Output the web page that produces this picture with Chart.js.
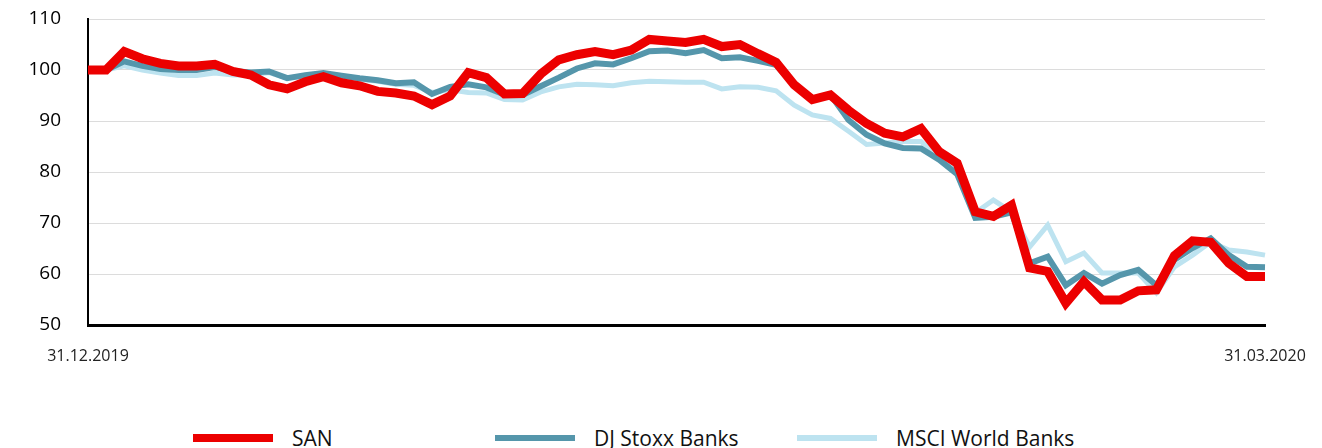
<!DOCTYPE html>
<html>
<head>
<meta charset="utf-8">
<script src="https://cdn.jsdelivr.net/npm/chart.js@4.4.1/dist/chart.umd.min.js"></script>
<style>
    body { margin: 0; background: #fff; width: 1322px; height: 448px; overflow: hidden; position: relative; font-family: "Open Sans", sans-serif; }
    #wrap { position: absolute; left: 0; top: 0; width: 1322px; height: 400px; }
    .item { position: absolute; top: 427px; height: 22px; display: flex; align-items: center; font-size: 21px; color: #111; white-space: nowrap; }
    .swatch { width: 80px; margin-right: 19px; }
</style>
</head>
<body>
<div id="wrap"><canvas id="chartId" width="1322" height="400"></canvas></div>
<div id="legend"></div>
<script>
// series values (index, 31.12.2019 = 100)
var SAN = [100, 100, 103.6, 102.2, 101.3, 100.8, 100.8, 101.1, 99.7, 99,
    97.1, 96.3, 97.7, 98.7, 97.5, 96.9, 95.8, 95.5, 94.9, 93.2,
    94.9, 99.5, 98.5, 95.3, 95.4, 99.2, 102, 103, 103.6, 103,
    103.9, 106, 105.7, 105.4, 106, 104.6, 105, 103.2, 101.5, 97.1,
    94.2, 95.1, 92.1, 89.5, 87.6, 86.9, 88.5, 84, 81.7, 72.2,
    71.3, 73.5, 61.2, 60.5, 54.3, 58.5, 54.9, 54.9, 56.7, 56.9,
    63.6, 66.5, 66.2, 62.1, 59.5, 59.5];
var DJ_STOXX = [100, 100, 101.7, 100.8, 100.2, 100, 100, 100.6, 99.8, 99.5,
    99.7, 98.4, 99, 99.4, 98.9, 98.4, 98, 97.4, 97.6, 95.3,
    96.7, 97.2, 96.6, 95.2, 95.1, 96.8, 98.5, 100.3, 101.3, 101.1,
    102.3, 103.7, 103.8, 103.3, 103.9, 102.3, 102.5, 101.8, 101, 97,
    94.3, 95.2, 90.2, 87.3, 85.6, 84.7, 84.6, 82.4, 79.6, 71,
    71.2, 72.1, 62.1, 63.4, 57.8, 60.2, 58.1, 59.8, 60.8, 57.8,
    62.8, 65.1, 67, 63.7, 61.4, 61.3];
var MSCI = [100, 100, 100.8, 100, 99.4, 98.9, 98.9, 99.4, 99, 99,
    99.5, 98.4, 98.8, 99.2, 98.6, 98.2, 97.8, 97.2, 97, 95.6,
    96.1, 95.6, 95.5, 94.2, 94.1, 95.7, 96.7, 97.2, 97.1, 96.9,
    97.5, 97.8, 97.7, 97.6, 97.6, 96.3, 96.7, 96.6, 95.9, 93.1,
    91.2, 90.5, 88, 85.4, 85.7, 86, 86, 83, 80, 72,
    74.5, 72.2, 65.3, 69.6, 62.4, 64.1, 60.2, 60.2, 60.2, 56.3,
    61.4, 63.7, 66.3, 64.7, 64.3, 63.7];

var seriesNames = ['SAN', 'DJ Stoxx Banks', 'MSCI World Banks'];
var seriesColors = ['#ec0000', '#5596ab', '#bde3f0'];
var tickLabels = ['31.12.2019', '31.03.2020'];
var yTicks = [50, 60, 70, 80, 90, 100, 110];
var categories = SAN.map(function (v, i) { return i; });

window.onload = function () {
    var chrt = document.getElementById('chartId').getContext('2d');
    var chartId = new Chart(chrt, {
        type: 'line',
        data: {
            labels: categories,
            datasets: [
                { label: seriesNames[0], data: SAN, borderColor: seriesColors[0], borderWidth: 9 },
                { label: seriesNames[1], data: DJ_STOXX, borderColor: seriesColors[1], borderWidth: 6 },
                { label: seriesNames[2], data: MSCI, borderColor: seriesColors[2], borderWidth: 5 }
            ]
        },
        options: {
            responsive: false,
            animation: false,
            layout: { padding: { top: 19, right: 57, left: 0, bottom: 0 } },
            plugins: {
                legend: { display: false },
                tooltip: { enabled: false }
            },
            elements: {
                point: { radius: 0 },
                line: { tension: 0, borderJoinStyle: 'miter', borderCapStyle: 'butt', fill: false }
            },
            scales: {
                x: {
                    offset: false,
                    grid: { display: false },
                    border: { display: true, color: '#000', width: 3 },
                    ticks: {
                        autoSkip: false,
                        maxRotation: 0,
                        padding: 14,
                        color: '#222',
                        font: { family: 'Open Sans', size: 16 },
                        callback: function (v, i) {
                            if (i === 0) return tickLabels[0];
                            if (i === categories.length - 1) return tickLabels[1];
                            return '';
                        }
                    },
                    afterFit: function (s) { s.height = 75; }
                },
                y: {
                    min: yTicks[0],
                    max: yTicks[yTicks.length - 1],
                    afterBuildTicks: function (s) {
                        s.ticks = yTicks.map(function (v) { return { value: v }; });
                    },
                    // invisible tick marks keep the labels away from the axis
                    grid: { color: '#dcdcdc', lineWidth: 1, drawTicks: true, tickLength: 27, tickColor: 'rgba(0,0,0,0)' },
                    border: { display: true, color: '#000', width: 2 },
                    ticks: {
                        padding: 0,
                        color: '#000',
                        font: { family: 'Open Sans', size: 19 }
                    },
                    afterFit: function (s) { s.width = 88; }
                }
            }
        }
    });

    // legend as html below the chart
    var legend = document.getElementById('legend');
    var lefts = [193, 495, 797];
    var thick = [8, 6, 6];
    for (var i = 0; i < seriesNames.length; i++) {
        var item = document.createElement('div');
        item.className = 'item';
        item.style.left = lefts[i] + 'px';
        var sw = document.createElement('span');
        sw.className = 'swatch';
        sw.style.height = thick[i] + 'px';
        sw.style.background = seriesColors[i];
        var txt = document.createElement('span');
        txt.textContent = seriesNames[i];
        item.appendChild(sw);
        item.appendChild(txt);
        legend.appendChild(item);
    }
};
</script>
</body>
</html>
